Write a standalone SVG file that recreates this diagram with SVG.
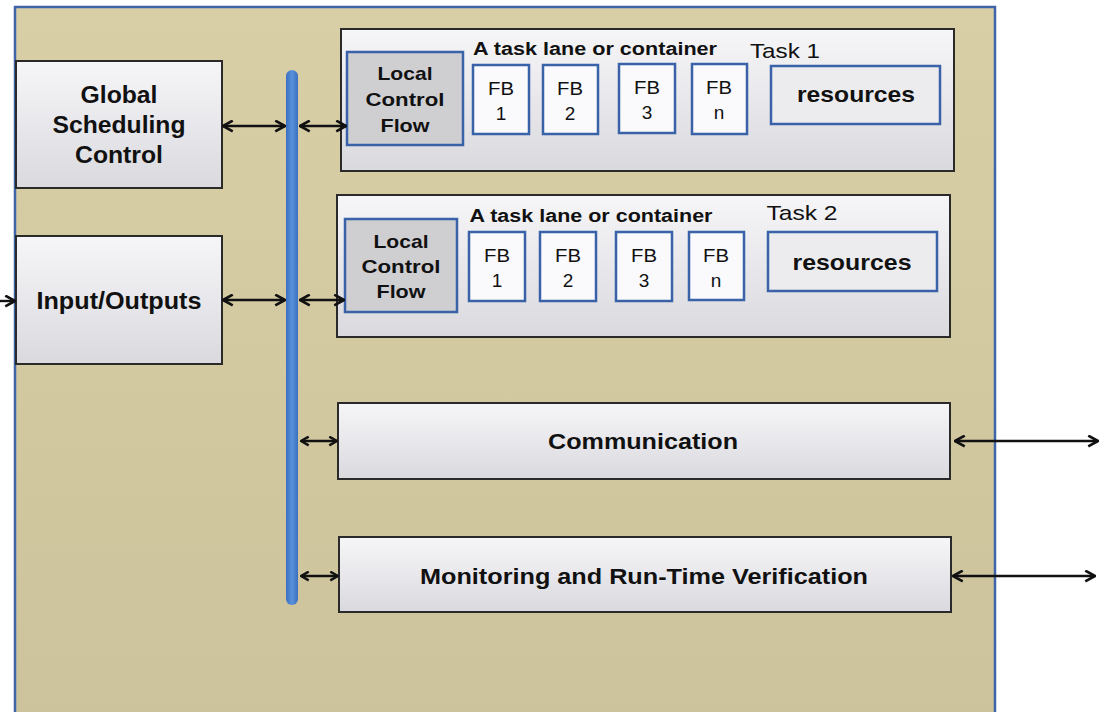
<svg xmlns="http://www.w3.org/2000/svg" width="1101" height="712" viewBox="0 0 1101 712">
<defs>
<linearGradient id="gBox" x1="0" y1="0" x2="0" y2="1">
<stop offset="0" stop-color="#f6f6f8"/>
<stop offset="0.5" stop-color="#e8e8ec"/>
<stop offset="1" stop-color="#dadade"/>
</linearGradient>
<linearGradient id="gBg" x1="0" y1="0" x2="0" y2="1">
<stop offset="0" stop-color="#d8cfa6"/>
<stop offset="1" stop-color="#ccc39c"/>
</linearGradient>
<linearGradient id="gBus" x1="0" y1="0" x2="1" y2="0">
<stop offset="0" stop-color="#3a6fc0"/>
<stop offset="0.5" stop-color="#5a92dc"/>
<stop offset="1" stop-color="#3a6fc0"/>
</linearGradient>
<marker id="ah" viewBox="0 0 12 12" refX="11" refY="6" markerWidth="13" markerHeight="13" markerUnits="userSpaceOnUse" orient="auto-start-reverse">
<path d="M2,1 L11,6 L2,11" fill="none" stroke="#111" stroke-width="2.4"/>
</marker>
<marker id="ahs" viewBox="0 0 10 10" refX="9" refY="5" markerWidth="11" markerHeight="11" markerUnits="userSpaceOnUse" orient="auto-start-reverse">
<path d="M2,1 L9,5 L2,9" fill="none" stroke="#111" stroke-width="2.2"/>
</marker>
</defs>
<style>
.big{fill:url(#gBox);stroke:#2a2a2a;stroke-width:2}
.lcf{fill:#cfcfd2;stroke:#3a62a8;stroke-width:2.5}
.fb{fill:#fafafc;stroke:#3a62a8;stroke-width:2.5}
.res{fill:#ececef;stroke:#3a62a8;stroke-width:2.5}
.b{font-family:"Liberation Sans",Arial,sans-serif;font-weight:bold;fill:#111;text-anchor:middle}
.r{font-family:"Liberation Sans",Arial,sans-serif;fill:#111;text-anchor:middle}
.c{fill:none;stroke:#111;stroke-width:2.4}
</style>
<rect x="0" y="0" width="1101" height="712" fill="#ffffff"/>
<g id="frame">
<rect x="15" y="7" width="980" height="710" fill="url(#gBg)" stroke="#3f64a8" stroke-width="2.5"/>
</g>
<g id="bus">
<rect x="286" y="70" width="12" height="535" rx="6" fill="url(#gBus)"/>
</g>
<g id="global-scheduling">
<rect class="big" x="16" y="61" width="206" height="127"/>
<text class="b" x="119" y="103" font-size="23" textLength="77" lengthAdjust="spacingAndGlyphs">Global</text>
<text class="b" x="119" y="133" font-size="23" textLength="133" lengthAdjust="spacingAndGlyphs">Scheduling</text>
<text class="b" x="119" y="163" font-size="23" textLength="88" lengthAdjust="spacingAndGlyphs">Control</text>
</g>
<g id="input-outputs">
<rect class="big" x="16" y="236" width="206" height="128"/>
<text class="b" x="119" y="309" font-size="23" textLength="165" lengthAdjust="spacingAndGlyphs">Input/Outputs</text>
</g>
<g id="task1">
<rect class="big" x="341" y="29" width="613" height="142"/>
<text class="b" x="595" y="55" font-size="18" textLength="244" lengthAdjust="spacingAndGlyphs">A task lane or container</text>
<text class="r" x="785" y="58" font-size="21" textLength="70" lengthAdjust="spacingAndGlyphs">Task 1</text>
<g id="t1-lcf">
<rect class="lcf" x="347" y="52" width="116" height="93"/>
<text class="b" x="405" y="80" font-size="19" textLength="55" lengthAdjust="spacingAndGlyphs">Local</text>
<text class="b" x="405" y="106" font-size="19" textLength="79" lengthAdjust="spacingAndGlyphs">Control</text>
<text class="b" x="405" y="132" font-size="19" textLength="49" lengthAdjust="spacingAndGlyphs">Flow</text>
</g>
<g id="t1-fb1"><rect class="fb" x="473" y="65" width="56" height="69"/><text class="r" x="501" y="95" font-size="19" textLength="26" lengthAdjust="spacingAndGlyphs">FB</text><text class="r" x="501" y="120" font-size="19">1</text></g>
<g id="t1-fb2"><rect class="fb" x="543" y="65" width="55" height="69"/><text class="r" x="570" y="95" font-size="19" textLength="26" lengthAdjust="spacingAndGlyphs">FB</text><text class="r" x="570" y="120" font-size="19">2</text></g>
<g id="t1-fb3"><rect class="fb" x="619" y="64" width="56" height="69"/><text class="r" x="647" y="94" font-size="19" textLength="26" lengthAdjust="spacingAndGlyphs">FB</text><text class="r" x="647" y="119" font-size="19">3</text></g>
<g id="t1-fbn"><rect class="fb" x="692" y="64" width="55" height="70"/><text class="r" x="719" y="94" font-size="19" textLength="26" lengthAdjust="spacingAndGlyphs">FB</text><text class="r" x="719" y="119" font-size="19">n</text></g>
<g id="t1-res"><rect class="res" x="771" y="66" width="169" height="58"/><text class="b" x="856" y="102" font-size="22" textLength="118" lengthAdjust="spacingAndGlyphs">resources</text></g>
</g>
<g id="task2">
<rect class="big" x="337" y="195" width="613" height="142"/>
<text class="b" x="591" y="222" font-size="18" textLength="243" lengthAdjust="spacingAndGlyphs">A task lane or container</text>
<text class="r" x="802" y="220" font-size="21" textLength="71" lengthAdjust="spacingAndGlyphs">Task 2</text>
<g id="t2-lcf">
<rect class="lcf" x="345" y="219" width="112" height="93"/>
<text class="b" x="401" y="248" font-size="19" textLength="55" lengthAdjust="spacingAndGlyphs">Local</text>
<text class="b" x="401" y="273" font-size="19" textLength="79" lengthAdjust="spacingAndGlyphs">Control</text>
<text class="b" x="401" y="298" font-size="19" textLength="49" lengthAdjust="spacingAndGlyphs">Flow</text>
</g>
<g id="t2-fb1"><rect class="fb" x="469" y="232" width="56" height="69"/><text class="r" x="497" y="262" font-size="19" textLength="26" lengthAdjust="spacingAndGlyphs">FB</text><text class="r" x="497" y="287" font-size="19">1</text></g>
<g id="t2-fb2"><rect class="fb" x="540" y="232" width="56" height="69"/><text class="r" x="568" y="262" font-size="19" textLength="26" lengthAdjust="spacingAndGlyphs">FB</text><text class="r" x="568" y="287" font-size="19">2</text></g>
<g id="t2-fb3"><rect class="fb" x="616" y="232" width="56" height="69"/><text class="r" x="644" y="262" font-size="19" textLength="26" lengthAdjust="spacingAndGlyphs">FB</text><text class="r" x="644" y="287" font-size="19">3</text></g>
<g id="t2-fbn"><rect class="fb" x="689" y="232" width="55" height="68"/><text class="r" x="716" y="262" font-size="19" textLength="26" lengthAdjust="spacingAndGlyphs">FB</text><text class="r" x="716" y="287" font-size="19">n</text></g>
<g id="t2-res"><rect class="res" x="768" y="232" width="169" height="59"/><text class="b" x="852" y="270" font-size="22" textLength="119" lengthAdjust="spacingAndGlyphs">resources</text></g>
</g>
<g id="communication">
<rect class="big" x="338" y="403" width="612" height="76"/>
<text class="b" x="643" y="449" font-size="22" textLength="190" lengthAdjust="spacingAndGlyphs">Communication</text>
</g>
<g id="monitoring">
<rect class="big" x="339" y="537" width="612" height="75"/>
<text class="b" x="644" y="584" font-size="22" textLength="448" lengthAdjust="spacingAndGlyphs">Monitoring and Run-Time Verification</text>
</g>
<g id="connectors">
<line class="c" x1="223" y1="126" x2="285" y2="126" marker-start="url(#ah)" marker-end="url(#ah)"/>
<line class="c" x1="300" y1="126" x2="346" y2="126" marker-start="url(#ah)" marker-end="url(#ah)"/>
<line class="c" x1="0" y1="301" x2="15" y2="301" marker-end="url(#ah)"/>
<line class="c" x1="223" y1="300" x2="285" y2="300" marker-start="url(#ah)" marker-end="url(#ah)"/>
<line class="c" x1="300" y1="300" x2="344" y2="300" marker-start="url(#ah)" marker-end="url(#ah)"/>
<line class="c" x1="301" y1="441" x2="337" y2="441" marker-start="url(#ahs)" marker-end="url(#ahs)"/>
<line class="c" x1="301" y1="576" x2="338" y2="576" marker-start="url(#ahs)" marker-end="url(#ahs)"/>
<line class="c" x1="955" y1="441" x2="1098" y2="441" marker-start="url(#ah)" marker-end="url(#ah)"/>
<line class="c" x1="953" y1="576" x2="1095" y2="576" marker-start="url(#ah)" marker-end="url(#ah)"/>
</g>
</svg>
